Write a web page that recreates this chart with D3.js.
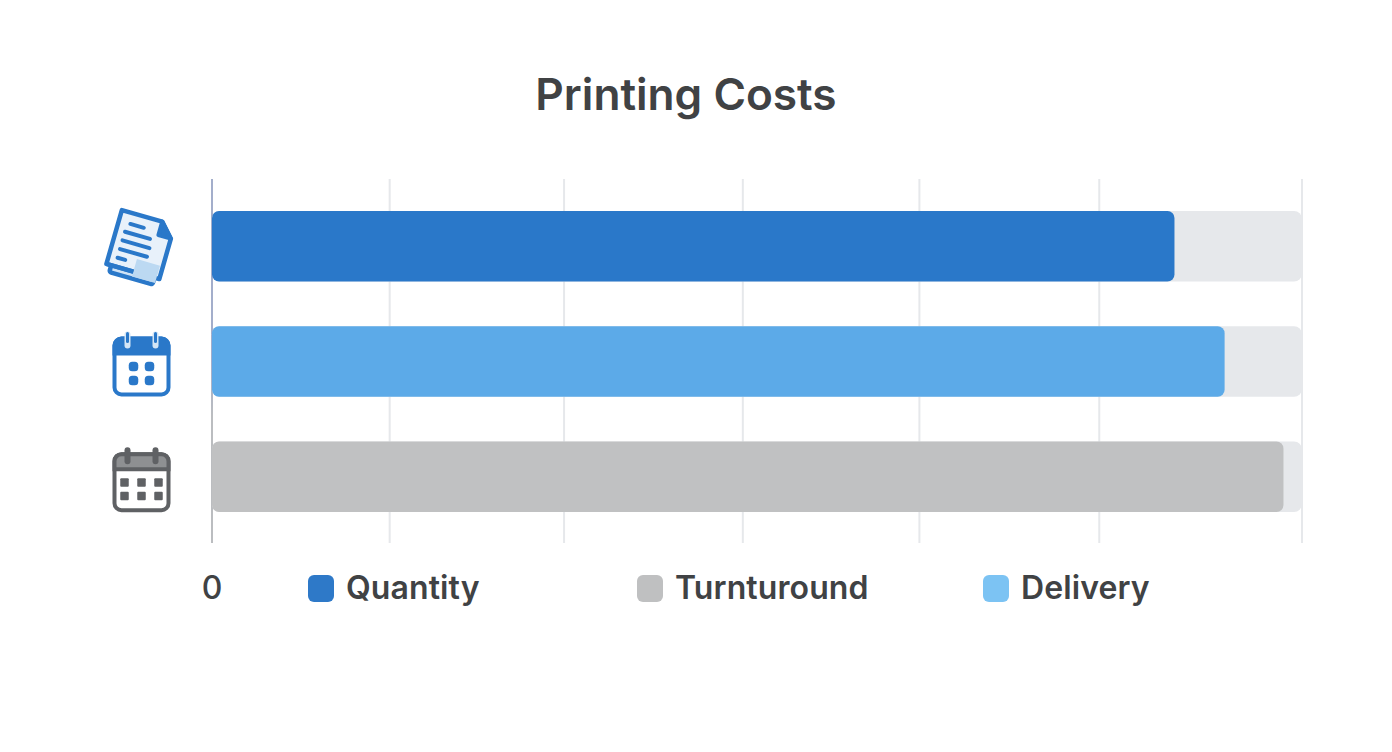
<!DOCTYPE html>
<html>
<head>
<meta charset="utf-8">
<script src="https://cdn.jsdelivr.net/npm/d3@7"></script>
<style>
  html, body { margin: 0; padding: 0; background: #fff; }
  svg { display: block; }
  text { font-family: Inter, "Noto Sans", sans-serif; fill: #404244; }
</style>
</head>
<body>
<svg id="chart" width="1392" height="752"></svg>
<script>
// values (percent of the full track)
var categories = ["Quantity", "Delivery", "Turnturound"];
var values = [88.3, 92.9, 98.3];
var gridValues = [16.3, 32.3, 48.7, 64.9, 81.4, 100];
var tickLabels = [0];
var legendNames = ["Quantity", "Turnturound", "Delivery"];
var trackMax = 100;

var barColors = { Quantity: "#2a78c9", Delivery: "#5caae8", Turnturound: "#c0c1c2" };
var legendColors = { Quantity: "#2e79c8", Turnturound: "#bfc0c1", Delivery: "#7cc3f3" };

var svg = d3.select("#chart");

// scales
var xScale = d3.scaleLinear().domain([0, trackMax]).range([212, 1302]);
var yScale = d3.scaleBand().domain(categories).range([211, 512]).paddingInner(0.388).paddingOuter(0);
var yTop = 179, yBottom = 543;

svg.append("text")
    .attr("x", 686)
    .attr("y", 110)
    .attr("text-anchor", "middle")
    .attr("font-size", 44.2)
    .attr("font-weight", 600)
    .text("Printing Costs");

// gridlines
svg.selectAll("line.grid")
    .data(gridValues)
    .enter().append("line")
    .attr("class", "grid")
    .attr("x1", function(d) { return xScale(d); })
    .attr("x2", function(d) { return xScale(d); })
    .attr("y1", yTop)
    .attr("y2", yBottom)
    .attr("stroke", "#e6e8eb")
    .attr("stroke-width", 2);

// baseline, blue at the top and grey further down
var baseGrad = svg.append("defs").append("linearGradient")
    .attr("id", "baseGrad")
    .attr("gradientUnits", "userSpaceOnUse")
    .attr("x1", 0).attr("x2", 0).attr("y1", yTop).attr("y2", yBottom);
baseGrad.append("stop").attr("offset", "0.5").attr("stop-color", "#a3aecb");
baseGrad.append("stop").attr("offset", "0.65").attr("stop-color", "#bbbdc0");
svg.append("rect")
    .attr("x", xScale(0) - 1)
    .attr("y", yTop)
    .attr("width", 2)
    .attr("height", yBottom - yTop)
    .attr("fill", "url(#baseGrad)");

// background tracks
svg.selectAll("rect.track")
    .data(categories)
    .enter().append("rect")
    .attr("class", "track")
    .attr("x", xScale(0))
    .attr("y", function(d) { return yScale(d); })
    .attr("width", xScale(trackMax) - xScale(0))
    .attr("height", yScale.bandwidth())
    .attr("rx", 8)
    .attr("fill", "#e6e8eb");

// bars
svg.selectAll("rect.bar")
    .data(categories)
    .enter().append("rect")
    .attr("class", "bar")
    .attr("x", xScale(0))
    .attr("y", function(d) { return yScale(d); })
    .attr("width", function(d, i) { return xScale(values[i]) - xScale(0); })
    .attr("height", yScale.bandwidth())
    .attr("rx", 7)
    .attr("fill", function(d) { return barColors[d]; });

// icons, drawn around the centre of each band
function iconY(name) { return yScale(name) + yScale.bandwidth() / 2; }

function drawCalendar(cy, main, header, rows, cols, cell, gap, rowGap, rx) {
    var blue = main === "#2a78c9";
    var g = svg.append("g").attr("transform", "translate(141.5," + cy + ")");
    g.append("rect").attr("x", -27).attr("y", -28).attr("width", 54).attr("height", 56)
        .attr("rx", 7).attr("fill", "#fff").attr("stroke", main).attr("stroke-width", 4);
    g.append("path").attr("d", "M-27,-13V-21a7,7 0 0 1 7,-7H20a7,7 0 0 1 7,7V-13Z")
        .attr("fill", header).attr("stroke", main).attr("stroke-width", 4);
    [-14, 14].forEach(function(dx) {
        g.append("path").attr("d", "M" + dx + ",-32V-21")
            .attr("stroke", blue ? "#d3e5f6" : main).attr("stroke-width", 6)
            .attr("stroke-linecap", "round").attr("fill", "none");
        if (blue) {
            g.append("path").attr("d", "M" + dx + ",-33V-25")
                .attr("stroke", main).attr("stroke-width", 3)
                .attr("stroke-linecap", "round");
        }
    });
    d3.range(rows).forEach(function(r) {
        d3.range(cols).forEach(function(c) {
            g.append("rect")
                .attr("x", (c - (cols - 1) / 2) * gap - cell / 2)
                .attr("y", 7 + (r - (rows - 1) / 2) * rowGap - cell / 2)
                .attr("width", cell).attr("height", cell).attr("rx", rx)
                .attr("fill", main);
        });
    });
}

function drawDocument(cy) {
    var g = svg.append("g").attr("transform", "translate(139," + cy + ") rotate(16)");
    g.append("rect").attr("x", -22).attr("y", -14).attr("width", 45).attr("height", 45).attr("rx", 2)
        .attr("fill", "#cfe2f5").attr("stroke", "#2a78c9").attr("stroke-width", 4.5);
    g.append("path").attr("d", "M-27,-32H15L28,-18V24H-27Z")
        .attr("fill", "#e8f1fa").attr("stroke", "#2a78c9").attr("stroke-width", 4.5).attr("stroke-linejoin", "round");
    g.append("path").attr("d", "M15,-32L28,-18H15Z")
        .attr("fill", "#2a78c9").attr("stroke", "#2a78c9").attr("stroke-width", 4).attr("stroke-linejoin", "round");
    [[-15, -21, 14], [-18, -12, 26], [-18, -3, 28], [-18, 6, 28], [-18, 15, 8]].forEach(function(l) {
        g.append("path").attr("d", "M" + l[0] + "," + l[1] + "h" + l[2])
            .attr("stroke", "#2a78c9").attr("stroke-width", 4).attr("stroke-linecap", "round");
    });
    g.append("rect").attr("x", 1).attr("y", 11).attr("width", 24).attr("height", 18).attr("fill", "#bcd9f2");
    g.append("path").attr("d", "M-27,24H1").attr("stroke", "#2a78c9").attr("stroke-width", 4.5);
}

drawDocument(iconY("Quantity") + 2);
drawCalendar(iconY("Delivery") + 5, "#2a78c9", "#2a78c9", 2, 2, 9.5, 16, 14, 3.5);
drawCalendar(iconY("Turnturound") + 5.5, "#5f6164", "#8e9092", 2, 3, 8.5, 17, 13.5, 1);

// axis tick
svg.selectAll("text.tick")
    .data(tickLabels)
    .enter().append("text")
    .attr("class", "tick")
    .attr("x", function(d) { return xScale(d); })
    .attr("y", 599)
    .attr("text-anchor", "middle")
    .attr("font-size", 32)
    .attr("font-weight", 500)
    .text(function(d) { return d; });

// legend
var legendX = d3.scaleOrdinal().domain(legendNames).range([308, 637, 983]);
var legend = svg.selectAll("g.legend")
    .data(legendNames)
    .enter().append("g")
    .attr("class", "legend")
    .attr("transform", function(d) { return "translate(" + legendX(d) + ",575)"; });
legend.append("rect")
    .attr("width", 26)
    .attr("height", 27)
    .attr("rx", 6)
    .attr("fill", function(d) { return legendColors[d]; });
legend.append("text")
    .attr("x", 38)
    .attr("y", 24)
    .attr("font-size", 32)
    .attr("font-weight", 600)
    .style("letter-spacing", "0.1px")
    .text(function(d) { return d; });
</script>
</body>
</html>
